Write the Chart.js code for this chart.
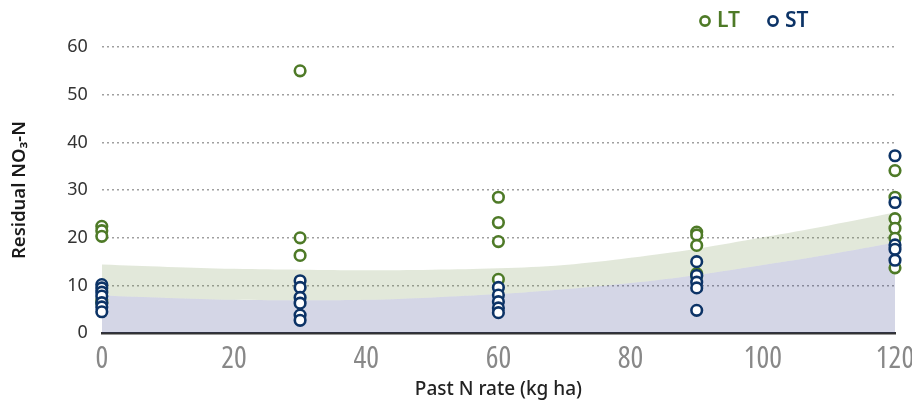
<!DOCTYPE html>
<html>
<head>
<meta charset="utf-8">
<script src="https://cdn.jsdelivr.net/npm/chart.js@4.4.1/dist/chart.umd.min.js"></script>
<style>
  html, body { margin: 0; padding: 0; background: #fff; }
  #wrap { width: 912px; height: 401px; }
</style>
</head>
<body>
<div id="wrap"><canvas id="chart"></canvas></div>
<script>
// Tỷ lệ N trước đây (kg/ha)
const rates = [0, 30, 60, 90, 120];
const xTicks = [0, 20, 40, 60, 80, 100, 120];
const yTicks = [0, 10, 20, 30, 40, 50, 60];

// LT - điểm đo theo từng mức N
const lt0 = [22.4, 21.5, 20.3, 7.0, 6.3];
const lt30 = [55.0, 20.0, 16.3];
const lt60 = [28.5, 23.2, 19.2, 11.3];
const lt90 = [21.2, 20.6, 18.4, 12.5, 12.0];
const lt120 = [34.1, 28.5, 24.0, 22.0, 19.9, 13.7];

// ST - điểm đo theo từng mức N
const st0 = [10.2, 9.5, 8.6, 7.8, 6.4, 5.5, 4.5];
const st30 = [11.0, 9.6, 7.5, 6.3, 3.8, 2.7];
const st60 = [9.6, 8.0, 6.6, 5.3, 4.3];
const st90 = [15.0, 12.1, 10.7, 9.5, 4.8];
const st120 = [37.2, 27.4, 18.5, 17.6, 15.3];

// Vùng đường cong
const bandX = [0, 10, 20, 30, 40, 50, 60, 70, 80, 90, 100, 110, 120];
const ltBand = [14.4, 13.9, 13.5, 13.3, 13.2, 13.3, 13.6, 14.3, 15.8, 17.7, 20.1, 22.6, 25.3];
const stBand = [7.9, 7.4, 7.0, 6.9, 7.0, 7.5, 8.2, 9.2, 10.5, 12.2, 14.3, 16.5, 19.0];

const GREEN = '#4e7a27';
const NAVY = '#0c3366';

function toPoints(groups) {
	const pts = [];
	groups.forEach((vals, i) => {
		vals.forEach(v => pts.push({ x: rates[i], y: v }));
	});
	return pts;
}

function toLine(xs, ys) {
	return xs.map((x, i) => ({ x: x, y: ys[i] }));
}

// Chú thích tự vẽ
const legendPlugin = {
	id: 'customLegend',
	afterDraw(chart) {
		const ctx = chart.ctx;
		const items = [
			{ text: 'LT', color: GREEN, x: 705 },
			{ text: 'ST', color: NAVY, x: 773 }
		];
		ctx.save();
		ctx.font = '600 21px "Noto Sans", sans-serif';
		ctx.textBaseline = 'middle';
		items.forEach(it => {
			ctx.beginPath();
			ctx.arc(it.x, 21, 4.6, 0, Math.PI * 2);
			ctx.lineWidth = 2.6;
			ctx.strokeStyle = it.color;
			ctx.fillStyle = '#fff';
			ctx.fill();
			ctx.stroke();
			ctx.fillStyle = it.color;
			ctx.fillText(it.text, it.x + 12, 21);
		});
		ctx.restore();
	}
};

const ctx = document.getElementById('chart').getContext('2d');
new Chart(ctx, {
	type: 'scatter',
	data: {
		datasets: [
			{
				label: 'ST',
				data: toPoints([st0, st30, st60, st90, st120]),
				borderColor: NAVY,
				backgroundColor: '#fff',
				pointRadius: 5.3,
				pointBorderWidth: 2.6,
				clip: false,
				order: 0
			},
			{
				label: 'LT',
				data: toPoints([lt0, lt30, lt60, lt90, lt120]),
				borderColor: GREEN,
				backgroundColor: '#fff',
				pointRadius: 5.3,
				pointBorderWidth: 2.6,
				clip: false,
				order: 0
			},
			{
				label: 'LT band',
				data: toLine(bandX, ltBand),
				showLine: true,
				borderWidth: 0,
				pointRadius: 0,
				tension: 0.4,
				fill: '+1',
				backgroundColor: 'rgba(110, 140, 70, 0.2)',
				order: 1
			},
			{
				label: 'ST band',
				data: toLine(bandX, stBand),
				showLine: true,
				borderWidth: 0,
				pointRadius: 0,
				tension: 0.4,
				fill: 'origin',
				backgroundColor: 'rgba(40, 50, 130, 0.2)',
				order: 1
			}
		]
	},
	options: {
		responsive: true,
		maintainAspectRatio: false,
		animation: false,
		layout: { padding: { top: 47, right: 0, left: 9, bottom: 0 } },
		plugins: {
			legend: { display: false },
			tooltip: { enabled: false }
		},
		scales: {
			x: {
				type: 'linear',
				min: 0,
				max: 120,
				afterBuildTicks: axis => { axis.ticks = xTicks.map(v => ({ value: v })); },
				afterFit: axis => { axis.paddingRight = 17; },
				grid: { display: false },
				border: { display: true, color: '#333', width: 2.5 },
				ticks: {
					color: '#888',
					padding: 2,
					font: { family: '"Open Sans", "DejaVu Sans", sans-serif', weight: '400 ultra-condensed', size: 30, lineHeight: 1.1 }
				},
				title: {
					display: true,
					text: 'Past N rate (kg ha)',
					color: '#222',
					padding: { top: 0, bottom: 0 },
					font: { family: '"Noto Sans", sans-serif', size: 19, weight: '500' }
				}
			},
			y: {
				min: 0,
				max: 60,
				afterBuildTicks: axis => { axis.ticks = yTicks.map(v => ({ value: v })); },
				border: { display: false, dash: [2, 3] },
				grid: {
					color: c => c.tick.value === 0 ? 'rgba(0,0,0,0)' : '#a0a0a0',
					lineWidth: 1.5,
					drawTicks: false
				},
				ticks: {
					color: '#333',
					padding: 14,
					font: { family: '"Noto Sans", sans-serif', size: 18 }
				},
				title: {
					display: true,
					text: 'Residual NO₃-N',
					color: '#1a1a1a',
					padding: { top: 0, bottom: 22 },
					font: { family: '"Noto Sans", sans-serif', size: 18.5, weight: '600' }
				}
			}
		}
	},
	plugins: [legendPlugin]
});
</script>
</body>
</html>
